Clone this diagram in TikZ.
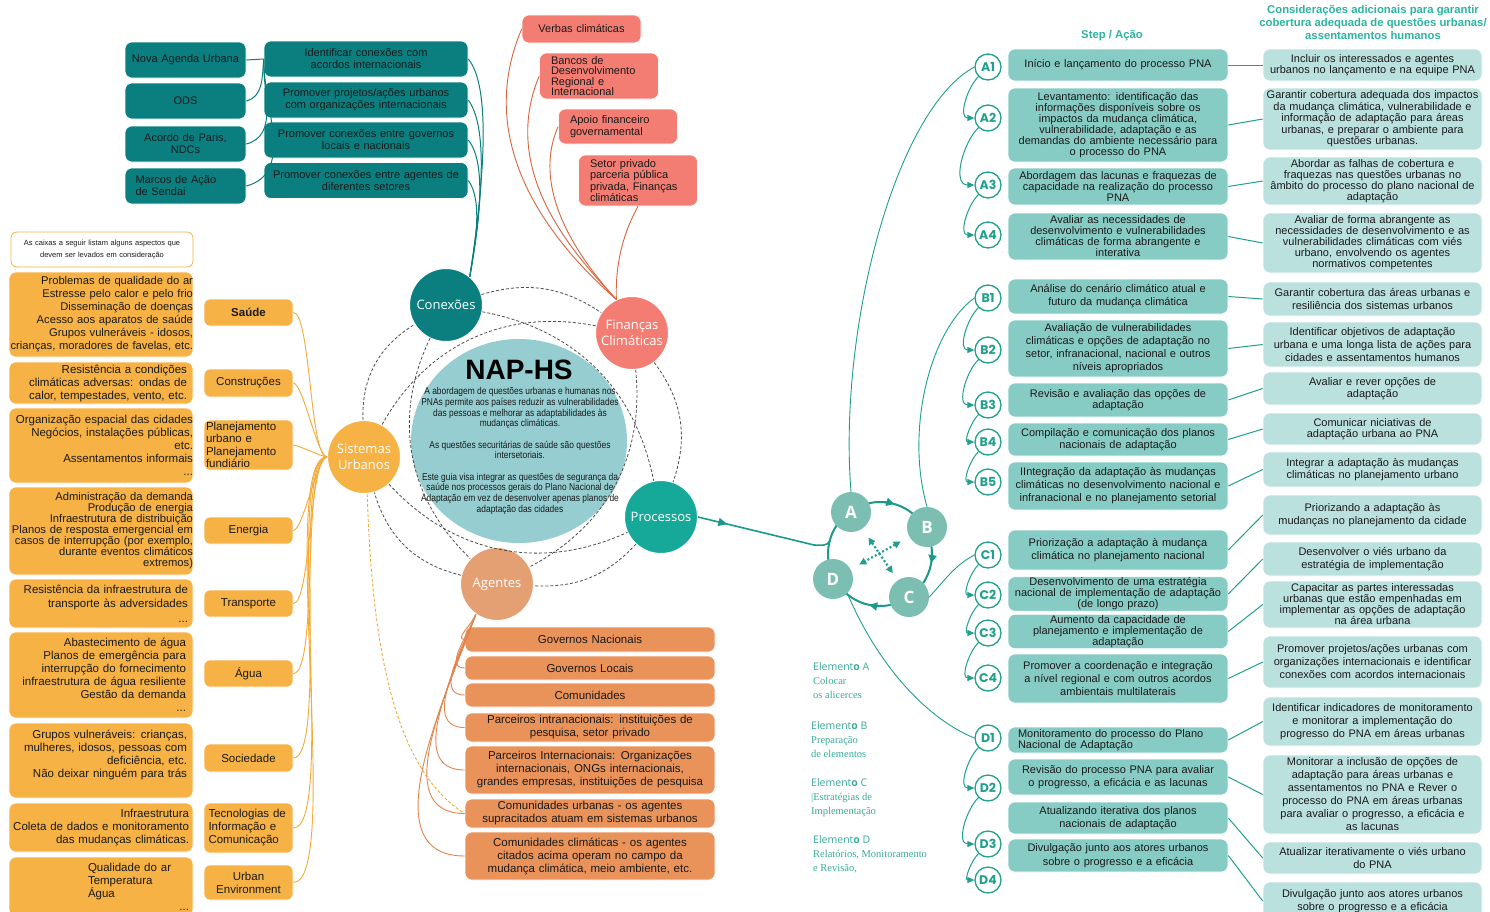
\documentclass[tikz,border=0pt]{standalone}
\usepackage{fontspec}
\setmainfont{Liberation Sans}
\newfontfamily\hubfont{Open Sans}
\newfontfamily\labelfont{Poppins}
\newfontfamily\narrowfont[FakeStretch=0.85]{Liberation Sans}
\newfontfamily\elemserif{Liberation Serif}
\usetikzlibrary{calc,positioning,arrows.meta,shapes.geometric,decorations.markings}
\definecolor{ConTeal}{HTML}{0B7F80}
\definecolor{FinCoral}{HTML}{F37D73}
\definecolor{FinLine}{HTML}{D8643E}
\definecolor{SysOrange}{HTML}{F6B245}
\definecolor{SysLine}{HTML}{F4AA35}
\definecolor{ProcTeal}{HTML}{16A898}
\definecolor{AgePeach}{HTML}{E4A073}
\definecolor{AgeOrange}{HTML}{E9935A}
\definecolor{AgeLine}{HTML}{E2844D}
\definecolor{NapBlue}{HTML}{95CDD1}
\definecolor{StepTeal}{HTML}{87CCC4}
\definecolor{ConsidTeal}{HTML}{BBE1DE}
\definecolor{HeadTeal}{HTML}{2DB3A1}
\definecolor{LineTeal}{HTML}{1FA08E}
\definecolor{FlowTeal}{HTML}{1C9A89}
\definecolor{CycleFill}{HTML}{7CBFB2}
\definecolor{ElemTeal}{HTML}{3AA99B}
\definecolor{TextDark}{HTML}{1A1A1A}
\definecolor{DashGray}{HTML}{4D4D4D}

\begin{document}
\begin{tikzpicture}[x=1pt, y=-1pt,
    font=\fontsize{11}{12}\selectfont, text=TextDark,
    agreement/.style={rectangle, rounded corners=7pt, fill=ConTeal, draw=white, line width=0.6pt, minimum width=121pt, minimum height=36pt, text width=117pt, align=center, inner sep=1pt},
    linkbox/.style={agreement, minimum width=204pt, text width=200pt},
    fundbox/.style={rectangle, rounded corners=7pt, fill=FinCoral, draw=white, line width=0.6pt, minimum width=119pt, text width=96pt, align=left, inner sep=1pt, font=\fontsize{11}{11}\selectfont},
    hub/.style={circle, minimum size=73pt, inner sep=0pt, draw=white, line width=1pt, text=white, align=center, font=\hubfont\fontsize{13}{16}\selectfont},
    notebox/.style={rectangle, rounded corners=6pt, draw=SysOrange, line width=0.8pt, fill=white, minimum width=182pt, minimum height=35pt, text width=178pt, align=center, inner sep=1pt, font=\fontsize{7.5}{11.5}\selectfont},
    aspectbox/.style={rectangle, rounded corners=7pt, fill=SysOrange, draw=white, line width=0.6pt, minimum width=184pt, text width=184pt, align=right, inner sep=0pt, font=\fontsize{11.5}{13}\selectfont},
    aspectlabel/.style={rectangle, rounded corners=6pt, fill=SysOrange, draw=white, line width=0.6pt, minimum width=89pt, text width=85pt, align=center, inner sep=2pt, font=\fontsize{11.5}{13}\selectfont},
    actorbox/.style={rectangle, rounded corners=7pt, fill=AgeOrange, draw=white, line width=0.6pt, minimum width=250pt, text width=244pt, align=center, inner sep=1pt, font=\fontsize{11.5}{13}\selectfont},
    stepbox/.style={rectangle, rounded corners=7pt, fill=StepTeal, draw=white, line width=0.6pt, minimum width=220pt, text width=216pt, align=center, inner sep=1pt, font=\fontsize{11}{11.5}\selectfont},
    considbox/.style={stepbox, fill=ConsidTeal, minimum width=219pt, text width=217pt},
    steplabel/.style={circle, draw=LineTeal, line width=1.3pt, fill=white, minimum size=26pt, inner sep=0pt, text=LineTeal, font=\labelfont\bfseries\fontsize{12.5}{12.5}\selectfont},
    phase/.style={circle, fill=CycleFill, minimum size=40pt, inner sep=0pt, text=white, font=\hubfont\bfseries\fontsize{17}{17}\selectfont},
    header/.style={text=HeadTeal, align=center, font=\bfseries\fontsize{11.3}{13}\selectfont},
    element/.style={anchor=north west, align=left, inner sep=0pt, text=ElemTeal, font=\elemserif\fontsize{10.5}{14}\selectfont},
    agreeline/.style={ConTeal, line width=1pt},
    fundline/.style={FinLine, line width=0.9pt},
    aspectline/.style={SysLine, line width=0.9pt},
    actorline/.style={AgeLine, line width=0.9pt},
    dashlink/.style={DashGray, line width=0.8pt, dash pattern=on 3pt off 2pt},
    flow/.style={FlowTeal, line width=1.6pt, postaction={decorate}, decoration={markings, mark=at position 0.22 with {\arrow{Triangle[length=9pt,width=8pt]}}}},
    ring/.style={FlowTeal, line width=2pt},
    crossarrow/.style={{Triangle[length=7pt,width=7pt]}-{Triangle[length=7pt,width=7pt]}, LineTeal, line width=2.2pt, dash pattern=on 2pt off 2.2pt},
    groupline/.style={LineTeal, line width=0.9pt},
    stepflow/.style={-{Triangle[length=7pt,width=6pt]}, LineTeal, line width=1pt},
    pairline/.style={LineTeal, line width=1pt}
]
\path[fill=white] (0,0) rectangle (1490,911);
\useasboundingbox (0,0) rectangle (1490,911);

% centre of the diagram
\node[ellipse, fill=NapBlue, minimum width=216pt, minimum height=204pt] (NapCircle) at (519,441) {};
\node[font=\bfseries\fontsize{28}{28}\selectfont, text=black] (NapTitle) at (519,370) {NAP-HS};
\node[align=center, font=\narrowfont\fontsize{9.9}{10.7}\selectfont] (NapBody) at (520,451) {A abordagem de questões urbanas e humanas nos\\PNAs permite aos países reduzir as vulnerabilidades\\das pessoas e melhorar as adaptabilidades às\\mudanças climáticas.\\[10.7pt]As questões securitárias de saúde são questões\\intersetoriais.\\[10.7pt]Este guia visa integrar as questões de segurança da\\saúde nos processos gerais do Plano Nacional de\\Adaptação em vez de desenvolver apenas planos de\\adaptação das cidades};

\node[hub, fill=ConTeal] (Conexoes) at (446,305) {Conexões};
\node[hub, fill=FinCoral] (Financas) at (632,333) {Finanças\\Climáticas};
\node[hub, fill=SysOrange] (Sistemas) at (364,457) {Sistemas\\Urbanos};
\node[hub, fill=ProcTeal] (Processos) at (661,517) {Processos};
\node[hub, fill=AgePeach] (Agentes) at (497,584) {Agentes};

% conexoes
\node[agreement] (NovaAgenda) at (185.5,60) {Nova Agenda Urbana};
\node[agreement] (ODS) at (185.5,101) {ODS};
\node[agreement] (Paris) at (185.5,144) {Acordo de Paris,\\NDCs};
\node[agreement, align=left, text width=100pt] (Sendai) at (185.5,186) {Marcos de Ação\\de Sendai};
\node[linkbox] (IdentConexoes) at (366,59) {Identificar conexões com\\acordos internacionais};
\node[linkbox] (ProjUrbanos) at (366,100) {Promover projetos/ações urbanos\\com organizações internacionais};
\node[linkbox] (GovConexoes) at (366,140) {Promover conexões entre governos\\locais e nacionais};
\node[linkbox] (AgentConexoes) at (366,180.5) {Promover conexões entre agentes de\\diferentes setores};

% financas
\node[fundbox, minimum height=28pt, align=center] (Verbas) at (581.5,29) {Verbas climáticas};
\node[fundbox, minimum height=46pt, font=\fontsize{11}{10.5}\selectfont] (Bancos) at (599,76) {Bancos de\\Desenvolvimento\\Regional e\\Internacional};
\node[fundbox, minimum height=35pt, font=\fontsize{11}{12.5}\selectfont] (ApoioGov) at (618,126.5) {Apoio financeiro\\governamental};
\node[fundbox, minimum height=51pt, font=\fontsize{11}{11.5}\selectfont] (SetorPrivado) at (638,180.5) {Setor privado\\parceria pública\\privada, Finanças\\climáticas};

% sistemas urbanos
\node[notebox] (NoteBox) at (102,249.5) {As caixas a seguir listam alguns aspectos que\\devem ser levados em consideração};
\node[aspectbox, minimum height=85pt, font=\fontsize{11.2}{13}\selectfont] (HealthList) at (101,314.5) {Problemas de qualidade do ar\\Estresse pelo calor e pelo frio\\Disseminação de doenças\\Acesso aos aparatos de saúde\\Grupos vulneráveis - idosos,\\crianças, moradores de favelas, etc.};
\node[aspectbox, minimum height=42pt, text width=172pt] (BuildList) at (101,383) {Resistência a condições\\climáticas adversas: ondas de\\calor, tempestades, vento, etc.};
\node[aspectbox, minimum height=75pt] (PlanList) at (101,445.5) {Organização espacial das cidades\\Negócios, instalações públicas,\\etc.\\Assentamentos informais\\...};
\node[aspectbox, minimum height=88pt, font=\fontsize{11.2}{11}\selectfont] (EnergyList) at (101,531) {Administração da demanda\\Produção de energia\\Infraestrutura de distribuição\\Planos de resposta emergencial em\\casos de interrupção (por exemplo,\\durante eventos climáticos\\extremos)};
\node[aspectbox, minimum height=49pt, text width=174pt, font=\fontsize{11.5}{14.5}\selectfont] (TransportList) at (101,603.5) {Resistência da infraestrutura de\\transporte às adversidades\\...};
\node[aspectbox, minimum height=86pt, text width=170pt] (WaterList) at (101,675) {Abastecimento de água\\Planos de emergência para\\interrupção do fornecimento\\infraestrutura de água resiliente\\Gestão da demanda\\...};
\node[aspectbox, minimum height=75pt, text width=172pt] (SocietyList) at (101,760.5) {Grupos vulneráveis: crianças,\\mulheres, idosos, pessoas com\\deficiência, etc.\\Não deixar ninguém para trás\\\mbox{}};
\node[aspectbox, minimum height=49pt, text width=176pt] (ICTList) at (101,827.5) {Infraestrutura\\Coleta de dados e monitoramento\\das mudanças climáticas.};
\node[aspectbox, minimum height=59pt, text width=176pt, align=left] (EnvList) at (101,886.5) {\hspace*{75pt}Qualidade do ar\\\hspace*{75pt}Temperatura\\\hspace*{75pt}Água\\\mbox{}\hfill...};

\node[aspectlabel, minimum height=27pt, font=\bfseries\fontsize{11.5}{13}\selectfont] (Health) at (248.5,312.5) {Saúde};
\node[aspectlabel, minimum height=28pt] (Building) at (248.5,383) {Construções};
\node[aspectlabel, minimum height=50pt, align=left, font=\fontsize{11.5}{12.5}\selectfont] (Planning) at (248.5,445) {Planejamento\\urbano e\\Planejamento\\fundiário};
\node[aspectlabel, minimum height=27pt] (Energy) at (248.5,530.5) {Energia};
\node[aspectlabel, minimum height=27pt] (Transport) at (248.5,603.5) {Transporte};
\node[aspectlabel, minimum height=27pt] (Water) at (248.5,673.5) {Água};
\node[aspectlabel, minimum height=28pt] (Society) at (248.5,758) {Sociedade};
\node[aspectlabel, minimum height=50pt, align=left, text width=80pt] (ICT) at (248.5,828) {Tecnologias de\\Informação e\\Comunicação};
\node[aspectlabel, minimum height=35pt] (UrbanEnv) at (248.5,882.5) {Urban\\Environment};

% agentes
\node[actorbox, minimum height=25pt] (GovNacionais) at (590,639.5) {Governos Nacionais};
\node[actorbox, minimum height=24pt] (GovLocais) at (590,668) {Governos Locais};
\node[actorbox, minimum height=24pt] (Comunidades) at (590,695) {Comunidades};
\node[actorbox, minimum height=29pt] (Intranacionais) at (590,727.5) {Parceiros intranacionais: instituições de\\pesquisa, setor privado};
\node[actorbox, minimum height=48pt] (Internacionais) at (590,770) {Parceiros Internacionais: Organizações\\internacionais, ONGs internacionais,\\grandes empresas, instituições de pesquisa};
\node[actorbox, minimum height=29pt] (ComUrbanas) at (590,813.5) {Comunidades urbanas - os agentes\\supracitados atuam em sistemas urbanos};
\node[actorbox, minimum height=48pt] (ComClimaticas) at (590,856) {Comunidades climáticas - os agentes\\citados acima operam no campo da\\mudança climática, meio ambiente, etc.};

% processos: ciclo
\coordinate (CycleCentre) at (880,554);
\coordinate (CycleEntry) at (830,540.5);
\draw[ring] (CycleCentre) circle[radius=52];
\draw[ring, -{Triangle[length=8pt,width=8pt]}] (CycleCentre) ++(-88:52) arc[start angle=-88, end angle=-74, radius=52];
\draw[ring, -{Triangle[length=8pt,width=8pt]}] (CycleCentre) ++(-4:52) arc[start angle=-4, end angle=10, radius=52];
\draw[ring, -{Triangle[length=8pt,width=8pt]}] (CycleCentre) ++(88:52) arc[start angle=88, end angle=102, radius=52];
\node[phase] (PhaseA) at (851,512) {A};
\node[phase] (PhaseB) at (927,527) {B};
\node[phase] (PhaseC) at (909,597) {C};
\node[phase] (PhaseD) at (833,579) {D};
\draw[crossarrow] ($(PhaseA)!0.3!(PhaseC)$) -- ($(PhaseA)!0.72!(PhaseC)$);
\draw[crossarrow] ($(PhaseB)!0.28!(PhaseD)$) -- ($(PhaseB)!0.72!(PhaseD)$);

\node[element] (ElemA) at (813,662) {{\hubfont Element\textbf{o} A}\\Colocar\\os alicerces};
\node[element] (ElemB) at (811,721) {{\hubfont Element\textbf{o} B}\\Preparação\\de elementos};
\node[element] (ElemC) at (811,778) {{\hubfont Element\textbf{o} C}\\|Estratégias de\\Implementação};
\node[element] (ElemD) at (813,835) {{\hubfont Element\textbf{o} D}\\Relatórios, Monitoramento\\e Revisão,};

% steps
\node[header] (StepHeader) at (1112,36) {Step / Ação};
\node[header] (ConsHeader) at (1373,22) {Considerações adicionais para garantir\\cobertura adequada de questões urbanas/\\assentamentos humanos};

\node[steplabel] (LabA1) at (988,67) {A1};
\node[steplabel] (LabA2) at (988,118) {A2};
\node[steplabel] (LabA3) at (988,185) {A3};
\node[steplabel] (LabA4) at (988,235) {A4};
\node[steplabel] (LabB1) at (988,298) {B1};
\node[steplabel] (LabB2) at (988,350) {B2};
\node[steplabel] (LabB3) at (988,405) {B3};
\node[steplabel] (LabB4) at (988,442) {B4};
\node[steplabel] (LabB5) at (988,482) {B5};
\node[steplabel] (LabC1) at (988,555) {C1};
\node[steplabel] (LabC2) at (988,595) {C2};
\node[steplabel] (LabC3) at (988,633) {C3};
\node[steplabel] (LabC4) at (988,678) {C4};
\node[steplabel] (LabD1) at (988,738) {D1};
\node[steplabel] (LabD2) at (988,788) {D2};
\node[steplabel] (LabD3) at (988,844) {D3};
\node[steplabel] (LabD4) at (988,880) {D4};

\node[stepbox, minimum height=32pt] (StepA1) at (1118,65) {Início e lançamento do processo PNA};
\node[stepbox, minimum height=74pt, font=\fontsize{11}{11}\selectfont] (StepA2) at (1118,125) {Levantamento: identificação das\\informações disponíveis sobre os\\impactos da mudança climática,\\vulnerabilidade, adaptação e as\\demandas do ambiente necessário para\\o processo do PNA};
\node[stepbox, minimum height=37pt, font=\fontsize{11}{11}\selectfont] (StepA3) at (1118,186.5) {Abordagem das lacunas e fraquezas de\\capacidade na realização do processo\\PNA};
\node[stepbox, minimum height=47pt, font=\fontsize{11}{11}\selectfont] (StepA4) at (1118,236.5) {Avaliar as necessidades de\\desenvolvimento e vulnerabilidades\\climáticas de forma abrangente e\\interativa};
\node[stepbox, minimum height=35pt, font=\fontsize{11}{13}\selectfont] (StepB1) at (1118,296.5) {Análise do cenário climático atual e\\futuro da mudança climática};
\node[stepbox, minimum height=57pt, font=\fontsize{11}{13}\selectfont] (StepB2) at (1118,348.5) {Avaliação de vulnerabilidades\\climáticas e opções de adaptação no\\setor, infranacional, nacional e outros\\níveis apropriados};
\node[stepbox, minimum height=34pt] (StepB3) at (1118,400) {Revisão e avaliação das opções de\\adaptação};
\node[stepbox, minimum height=33pt] (StepB4) at (1118,439.5) {Compilação e comunicação dos planos\\nacionais de adaptação};
\node[stepbox, minimum height=48pt, font=\fontsize{11}{13}\selectfont] (StepB5) at (1118,486) {IIntegração da adaptação às mudanças\\climáticas no desenvolvimento nacional e\\infranacional e no planejamento setorial};
\node[stepbox, minimum height=40pt, font=\fontsize{11}{13.5}\selectfont] (StepC1) at (1118,550) {Priorização a adaptação à mudança\\climática no planejamento nacional};
\node[stepbox, minimum height=34pt, font=\fontsize{11}{11}\selectfont] (StepC2) at (1118,594) {Desenvolvimento de uma estratégia\\nacional de implementação de adaptação\\(de longo prazo)};
\node[stepbox, minimum height=33pt, font=\fontsize{11}{11}\selectfont] (StepC3) at (1118,631.5) {Aumento da capacidade de\\planejamento e implementação de\\adaptação};
\node[stepbox, minimum height=49pt, font=\fontsize{11}{13}\selectfont] (StepC4) at (1118,678.5) {Promover a coordenação e integração\\a nível regional e com outros acordos\\ambientais multilaterais};
\node[stepbox, minimum height=26pt, align=left, text width=200pt] (StepD1) at (1118,740) {Monitoramento do processo do Plano\\Nacional de Adaptação};
\node[stepbox, minimum height=36pt, font=\fontsize{11}{12.5}\selectfont] (StepD2) at (1118,777) {Revisão do processo PNA para avaliar\\o progresso, a eficácia e as lacunas};
\node[stepbox, minimum height=32pt, font=\fontsize{11}{12.5}\selectfont] (StepD3) at (1118,818) {Atualizando iterativa dos planos\\nacionais de adaptação};
\node[stepbox, minimum height=33pt, font=\fontsize{11}{13.5}\selectfont] (StepD4) at (1118,855.5) {Divulgação junto aos atores urbanos\\sobre o progresso e a eficácia};

\node[considbox, minimum height=32pt] (ConsA1) at (1372.5,65) {Incluir os interessados e agentes\\urbanos no lançamento e na equipe PNA};
\node[considbox, minimum height=62pt] (ConsA2) at (1372.5,119) {Garantir cobertura adequada dos impactos\\da mudança climática, vulnerabilidade e\\informação de adaptação para áreas\\urbanas, e preparar o ambiente para\\questões urbanas.};
\node[considbox, minimum height=48pt, font=\fontsize{11}{11}\selectfont] (ConsA3) at (1372.5,181) {Abordar as falhas de cobertura e\\fraquezas nas questões urbanas no\\âmbito do processo do plano nacional de\\adaptação};
\node[considbox, minimum height=60pt, font=\fontsize{11}{11}\selectfont] (ConsA4) at (1372.5,243) {Avaliar de forma abrangente as\\necessidades de desenvolvimento e as\\vulnerabilidades climáticas com viés\\urbano, envolvendo os agentes\\normativos competentes};
\node[considbox, minimum height=34pt, font=\fontsize{11}{13.5}\selectfont] (ConsB1) at (1372.5,299) {Garantir cobertura das áreas urbanas e\\resiliência dos sistemas urbanos};
\node[considbox, minimum height=45pt, font=\fontsize{11}{13}\selectfont] (ConsB2) at (1372.5,344.5) {Identificar objetivos de adaptação\\urbana e uma longa lista de ações para\\cidades e assentamentos humanos};
\node[considbox, minimum height=33pt] (ConsB3) at (1372.5,388.5) {Avaliar e rever opções de\\adaptação};
\node[considbox, minimum height=32pt] (ConsB4) at (1372.5,429) {Comunicar niciativas de\\adaptação urbana ao PNA};
\node[considbox, minimum height=35pt] (ConsB5) at (1372.5,469.5) {Integrar a adaptação às mudanças\\climáticas no planejamento urbano};
\node[considbox, minimum height=40pt, font=\fontsize{11}{13.5}\selectfont] (ConsC1) at (1372.5,515) {Priorizando a adaptação às\\mudanças no planejamento da cidade};
\node[considbox, minimum height=34pt, font=\fontsize{11}{13}\selectfont] (ConsC2) at (1372.5,559) {Desenvolver o viés urbano da\\estratégia de implementação};
\node[considbox, minimum height=47pt, font=\fontsize{11}{11}\selectfont] (ConsC3) at (1372.5,604.5) {Capacitar as partes interessadas\\urbanas que estão empenhadas em\\implementar as opções de adaptação\\na área urbana};
\node[considbox, minimum height=52pt, font=\fontsize{11}{13}\selectfont] (ConsC4) at (1372.5,662) {Promover projetos/ações urbanas com\\organizações internacionais e identificar\\conexões com acordos internacionais};
\node[considbox, minimum height=49pt, font=\fontsize{11}{13}\selectfont] (ConsD1) at (1372.5,721.5) {Identificar indicadores de monitoramento\\e monitorar a implementação do\\progresso do PNA em áreas urbanas};
\node[considbox, minimum height=79pt, font=\fontsize{11}{13}\selectfont] (ConsD2) at (1372.5,794.5) {Monitorar a inclusão de opções de\\adaptação para áreas urbanas e\\assentamentos no PNA e Rever o\\processo do PNA em áreas urbanas\\para avaliar o progresso, a eficácia e\\as lacunas};
\node[considbox, minimum height=32pt, font=\fontsize{11}{13}\selectfont] (ConsD3) at (1372.5,858) {Atualizar iterativamente o viés urbano\\do PNA};
\node[considbox, minimum height=38pt, font=\fontsize{11}{13}\selectfont] (ConsD4) at (1372.5,901) {Divulgação junto aos atores urbanos\\sobre o progresso e a eficácia};

% dashed links between the hubs
\draw[dashlink] (Conexoes) to[bend left=25] (Financas);
\draw[dashlink] (Financas) to[bend left=28] (Processos);
\draw[dashlink] (Processos) to[bend left=25] (Agentes);
\draw[dashlink] (Agentes) to[bend left=30] (Sistemas);
\draw[dashlink] (Sistemas) to[bend left=30] (Conexoes);
\draw[dashlink] (Conexoes) to[bend left=34] (Processos);
\draw[dashlink] (Conexoes) to[bend right=36] (Agentes);
\draw[dashlink] (Financas) to[bend right=36] (Sistemas);
\draw[dashlink] (Financas) to[bend left=34] (Agentes);
\draw[dashlink] (Sistemas) to[bend right=36] (Processos);

% connectors
\draw[agreeline] (IdentConexoes.west) -- (NovaAgenda.east);
\draw[agreeline] (IdentConexoes.west) to[out=-95,in=15] (ODS.east);
\draw[agreeline] (IdentConexoes.west) to[out=-92,in=15] (Paris.east);
\draw[agreeline] (IdentConexoes.west) to[out=-90,in=15] (Sendai.east);
\draw[agreeline] (IdentConexoes.east) .. controls +(25,30) and +(12,-80) .. (Conexoes.50);
\draw[agreeline] (ProjUrbanos.east) .. controls +(22,30) and +(10,-60) .. (Conexoes.50);
\draw[agreeline] (GovConexoes.east) .. controls +(20,25) and +(8,-45) .. (Conexoes.50);
\draw[agreeline] (AgentConexoes.east) .. controls +(15,20) and +(5,-30) .. (Conexoes.50);

\draw[fundline] (Verbas.west) .. controls (470,150) and (560,250) .. (Financas.115);
\draw[fundline] (Bancos.west) .. controls (500,170) and (570,250) .. (Financas.115);
\draw[fundline] (ApoioGov.west) .. controls (530,190) and (580,260) .. (Financas.115);
\draw[fundline] (SetorPrivado.south) .. controls (625,230) and (615,260) .. (Financas.115);

\draw[aspectline] (Health.east) to[out=0,in=180,looseness=0.3] (Sistemas.west);
\draw[aspectline] (Building.east) to[out=0,in=180,looseness=0.3] (Sistemas.west);
\draw[aspectline] (Planning.east) to[out=0,in=180,looseness=0.3] (Sistemas.west);
\draw[aspectline] (Energy.east) to[out=0,in=180,looseness=0.3] (Sistemas.west);
\draw[aspectline] (Transport.east) to[out=0,in=180,looseness=0.3] (Sistemas.west);
\draw[aspectline] (Water.east) to[out=0,in=180,looseness=0.3] (Sistemas.west);
\draw[aspectline] (Society.east) to[out=0,in=180,looseness=0.3] (Sistemas.west);
\draw[aspectline] (ICT.east) to[out=0,in=180,looseness=0.3] (Sistemas.west);
\draw[aspectline] (UrbanEnv.east) to[out=0,in=180,looseness=0.3] (Sistemas.west);
\draw[aspectline, dash pattern=on 3pt off 2pt] (Sistemas.275) .. controls (372,650) and (395,770) .. (ComUrbanas.west);

\draw[actorline] (Agentes.235) to[out=250,in=180] (GovNacionais.west);
\draw[actorline] (Agentes.235) to[out=250,in=180] (GovLocais.west);
\draw[actorline] (Agentes.235) to[out=250,in=180] (Comunidades.west);
\draw[actorline] (Agentes.235) to[out=250,in=180] (Intranacionais.west);
\draw[actorline] (Agentes.235) to[out=250,in=180] (Internacionais.west);
\draw[actorline] (Agentes.235) to[out=250,in=180] (ComUrbanas.west);
\draw[actorline] (Agentes.235) to[out=250,in=180] (ComClimaticas.west);

\draw[flow] (Processos.east) -- (814,545) to[out=0,in=250] (CycleEntry);

\draw[groupline] (PhaseA.north) .. controls (838,330) and (895,110) .. (LabA1.west);
\draw[groupline] (PhaseB.north) .. controls (905,430) and (930,330) .. (LabB1.west);
\draw[groupline] (PhaseC.east) .. controls (945,580) and (955,565) .. (LabC1.west);
\draw[groupline] (PhaseD.south east) .. controls (880,670) and (930,720) .. (LabD1.west);

\draw[stepflow] (LabA1.south west) to[out=225,in=180] (LabA2.west);
\draw[stepflow] (LabA2.south west) to[out=225,in=180] (LabA3.west);
\draw[stepflow] (LabA3.south west) to[out=225,in=180] (LabA4.west);
\draw[stepflow] (LabB1.south west) to[out=225,in=180] (LabB2.west);
\draw[stepflow] (LabB2.south west) to[out=225,in=180] (LabB3.west);
\draw[stepflow] (LabB3.south west) to[out=225,in=180] (LabB4.west);
\draw[stepflow] (LabB4.south west) to[out=225,in=180] (LabB5.west);
\draw[stepflow] (LabC1.south west) to[out=225,in=180] (LabC2.west);
\draw[stepflow] (LabC2.south west) to[out=225,in=180] (LabC3.west);
\draw[stepflow] (LabC3.south west) to[out=225,in=180] (LabC4.west);
\draw[stepflow] (LabD1.south west) to[out=225,in=180] (LabD2.west);
\draw[stepflow] (LabD2.south west) to[out=225,in=180] (LabD3.west);
\draw[stepflow] (LabD3.south west) to[out=225,in=180] (LabD4.west);

\draw[pairline] (StepA1.east) -- (ConsA1.west);
\draw[pairline] (StepA2.east) -- (ConsA2.west);
\draw[pairline] (StepA3.east) -- (ConsA3.west);
\draw[pairline] (StepA4.east) -- (ConsA4.west);
\draw[pairline] (StepB1.east) -- (ConsB1.west);
\draw[pairline] (StepB2.east) -- (ConsB2.west);
\draw[pairline] (StepB3.east) -- (ConsB3.west);
\draw[pairline] (StepB4.east) -- (ConsB4.west);
\draw[pairline] (StepB5.east) -- (ConsB5.west);
\draw[pairline] (StepC1.east) -- (ConsC1.west);
\draw[pairline] (StepC2.east) -- (ConsC2.west);
\draw[pairline] (StepC3.east) -- (ConsC3.west);
\draw[pairline] (StepC4.east) -- (ConsC4.west);
\draw[pairline] (StepD1.east) -- (ConsD1.west);
\draw[pairline] (StepD2.east) -- (ConsD2.west);
\draw[pairline] (StepD3.east) -- (ConsD3.west);
\draw[pairline] (StepD4.east) -- (ConsD4.west);
\end{tikzpicture}
\end{document}
